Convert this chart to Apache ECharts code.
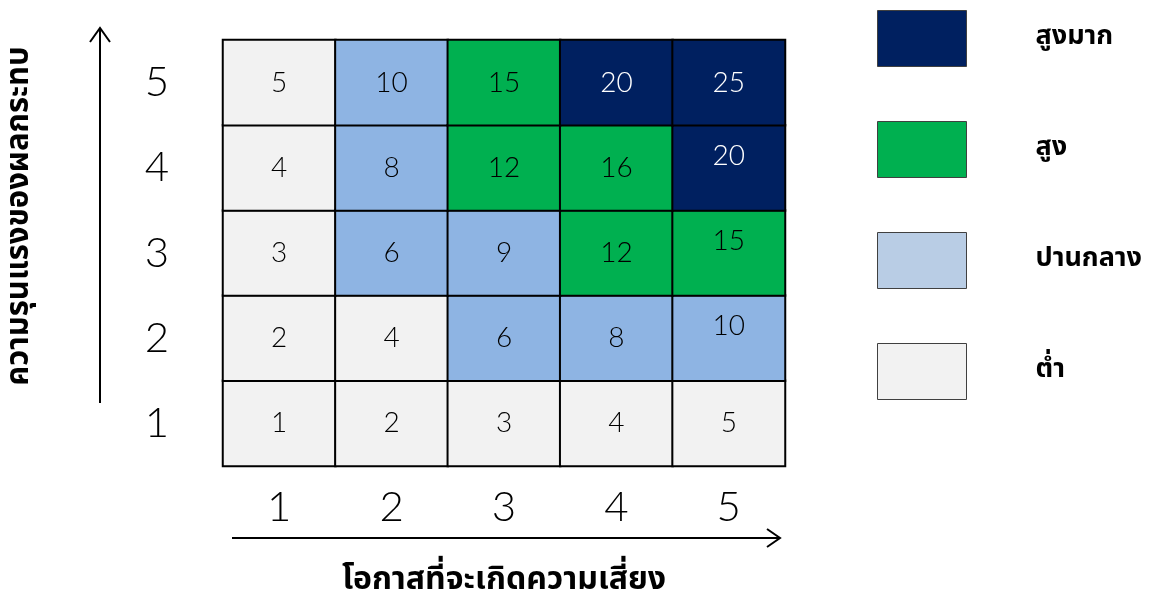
<!DOCTYPE html>
<html>
<head>
<meta charset="utf-8">
<script src="https://cdn.jsdelivr.net/npm/echarts@6/dist/echarts.min.js"></script>
<style>
html,body{margin:0;padding:0;background:#fff;}
#chart{width:1163px;height:596px;}
</style>
</head>
<body>
<div id="chart"></div>
<script>
// ---- data ----
var likelihoodTicks = ['1', '2', '3', '4', '5'];   // x axis
var impactTicks = ['1', '2', '3', '4', '5'];       // y axis (bottom -> top)
// risk score per row (impact 1..5), columns = likelihood 1..5
var scoreImpact1 = [1, 2, 3, 4, 5];
var scoreImpact2 = [2, 4, 6, 8, 10];
var scoreImpact3 = [3, 6, 9, 12, 15];
var scoreImpact4 = [4, 8, 12, 16, 20];
var scoreImpact5 = [5, 10, 15, 20, 25];
// level per cell: 0 = ต่ำ, 1 = ปานกลาง, 2 = สูง, 3 = สูงมาก
var levelImpact1 = [0, 0, 0, 0, 0];
var levelImpact2 = [0, 0, 1, 1, 1];
var levelImpact3 = [0, 1, 1, 2, 2];
var levelImpact4 = [0, 1, 2, 2, 3];
var levelImpact5 = [0, 1, 2, 3, 3];
var levelNames = ['ต่ำ', 'ปานกลาง', 'สูง', 'สูงมาก'];
var legendOrder = ['สูงมาก', 'สูง', 'ปานกลาง', 'ต่ำ'];
var xTitle = 'โอกาสที่จะเกิดความเสี่ยง';
var yTitle = 'ความรุนแรงของผลกระทบ';

// ---- styles ----
var cellColors = ['#F2F2F2', '#8EB4E3', '#00B050', '#002060'];
var legendColors = { 'สูงมาก': '#002060', 'สูง': '#00B050', 'ปานกลาง': '#B9CDE5', 'ต่ำ': '#F2F2F2' };
var labelColors = ['#000', '#000', '#000', '#fff'];
var numFont = 'Lato, "Open Sans", sans-serif';
var thaiFont = '"Noto Sans Thai", "Noto Sans", "DejaVu Sans", sans-serif';

var scores = [scoreImpact1, scoreImpact2, scoreImpact3, scoreImpact4, scoreImpact5];
var levels = [levelImpact1, levelImpact2, levelImpact3, levelImpact4, levelImpact5];

var series = levelNames.map(function (name, lv) {
  var data = [];
  for (var r = 0; r < 5; r++) {
    for (var c = 0; c < 5; c++) {
      if (levels[r][c] !== lv) continue;
      var item = { value: [c, r, scores[r][c]] };
      if (c === 4 && r >= 1 && r <= 3) item.label = { offset: [0, -12] };
      data.push(item);
    }
  }
  return {
    name: name,
    type: 'heatmap',
    data: data,
    itemStyle: { color: cellColors[lv], borderColor: '#000', borderWidth: 2 },
    label: { show: true, color: labelColors[lv], fontSize: 28, fontWeight: 300, fontFamily: numFont,
      formatter: function (p) { return p.value[2]; } },
    emphasis: { disabled: true }
  };
});

var chart = echarts.init(document.getElementById('chart'));
chart.setOption({
  animation: false,
  backgroundColor: '#fff',
  grid: { left: 223, right: 378, top: 40, bottom: 130, containLabel: false, outerBoundsMode: 'none' },
  xAxis: {
    type: 'category', data: likelihoodTicks,
    axisLine: { show: false }, axisTick: { show: false }, splitLine: { show: false },
    axisLabel: { fontSize: 42, fontWeight: 300, fontFamily: numFont, color: '#000', margin: 41, verticalAlign: 'middle' },
    name: xTitle, nameLocation: 'middle', nameGap: 117,
    nameTextStyle: { fontSize: 32, fontWeight: 'bold', fontFamily: thaiFont, color: '#000', verticalAlign: 'middle' }
  },
  yAxis: {
    type: 'category', data: impactTicks,
    axisLine: { show: false }, axisTick: { show: false }, splitLine: { show: false },
    axisLabel: { fontSize: 42, fontWeight: 300, fontFamily: numFont, color: '#000', margin: 66, align: 'center' }
  },
  legend: {
    orient: 'vertical', left: 877, top: 10, padding: 0,
    icon: 'rect', itemWidth: 89, itemHeight: 56, itemGap: 54,
    selectedMode: false,
    data: legendOrder.map(function (n) {
      return { name: n, itemStyle: { color: legendColors[n], borderColor: '#404040', borderWidth: 1 } };
    }),
    textStyle: { fontSize: 27, fontWeight: 'bold', fontFamily: thaiFont, color: '#000', padding: [0, 0, 0, 64] }
  },
  graphic: [
    { type: 'text', x: 22, y: 216, rotation: Math.PI / 2,
      style: { text: yTitle, font: 'bold 31px ' + thaiFont, fill: '#000', align: 'center', verticalAlign: 'middle' } },
    { type: 'polyline', shape: { points: [[100, 403], [100, 29]] }, style: { stroke: '#000', lineWidth: 2, fill: null } },
    { type: 'polyline', shape: { points: [[90, 42], [100, 28], [110, 42]] }, style: { stroke: '#000', lineWidth: 2, fill: null } },
    { type: 'polyline', shape: { points: [[232, 538], [779, 538]] }, style: { stroke: '#000', lineWidth: 2, fill: null } },
    { type: 'polyline', shape: { points: [[767, 529], [780, 538], [767, 547]] }, style: { stroke: '#000', lineWidth: 2, fill: null } }
  ],
  series: series
});
</script>
</body>
</html>
